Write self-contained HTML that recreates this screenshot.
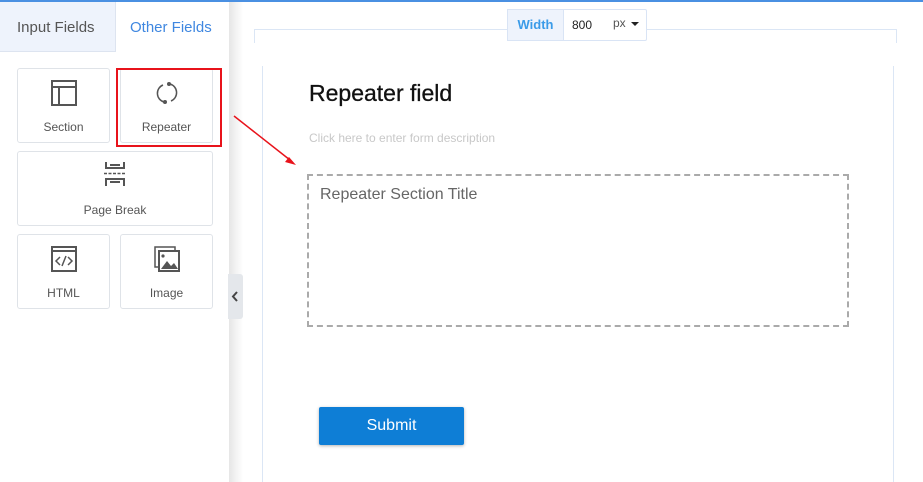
<!DOCTYPE html>
<html><head><meta charset="utf-8"><style>
*{box-sizing:border-box;margin:0;padding:0}
body{width:923px;height:482px;position:relative;overflow:hidden;background:#fff;font-family:"Liberation Sans",sans-serif}
.a{position:absolute}
.card{position:absolute;border:1px solid #dfe3e8;border-radius:3px;background:#fff;text-align:center;font-size:12px;color:#555}
.card span{position:absolute;left:0;right:0;bottom:8px}
.card svg{position:absolute;left:50%;transform:translateX(-50%);top:10px}
</style></head><body>
<div class="a" style="left:0;top:0;width:923px;height:2px;background:#4a90e2"></div>
<div class="a" style="left:229px;top:2px;width:14px;height:480px;background:linear-gradient(to right,#e6e6e6,#fff)"></div>
<div class="a" style="left:0;top:2px;width:229px;height:480px;background:#fff"></div>
<div class="a" style="left:0;top:2px;width:116px;height:50px;background:#eef3fc;border-right:1px solid #dde4f0;border-bottom:1px solid #dde4f0"></div>
<div class="a" style="left:17px;top:19px;font-size:15px;color:#555">Input Fields</div>
<div class="a" style="left:130px;top:19px;font-size:15px;color:#3f87e0">Other Fields</div>

<div class="card" style="left:17px;top:68px;width:93px;height:75px">
<svg width="28" height="28" viewBox="0 0 28 28"><rect x="2" y="2" width="24" height="24" fill="none" stroke="#555" stroke-width="2"/><line x1="2" y1="8" x2="26" y2="8" stroke="#555" stroke-width="2"/><line x1="9" y1="8" x2="9" y2="26" stroke="#555" stroke-width="2"/></svg><span>Section</span></div>
<div class="card" style="left:120px;top:68px;width:93px;height:75px">
<svg width="28" height="28" viewBox="0 0 28 28"><path d="M17 5 A9 9 0 0 1 18 22" fill="none" stroke="#555" stroke-width="1.5"/><path d="M11 23 A9 9 0 0 1 10 6" fill="none" stroke="#555" stroke-width="1.5"/><circle cx="16" cy="5" r="2" fill="#555"/><circle cx="12" cy="23" r="2" fill="#555"/></svg><span>Repeater</span></div>
<div class="a" style="left:116px;top:68px;width:106px;height:79px;border:2px solid #e8131b"></div>
<div class="card" style="left:17px;top:151px;width:196px;height:75px">
<svg width="28" height="28" viewBox="0 0 28 28" style="top:8px"><g stroke="#555" stroke-width="2" fill="none"><path d="M5 2v6h18V2"/><line x1="9" y1="5" x2="19" y2="5"/><path d="M5 26v-7h18v7"/><line x1="9" y1="22" x2="19" y2="22"/></g><line x1="3" y1="13.5" x2="25" y2="13.5" stroke="#555" stroke-width="1.5" stroke-dasharray="3 1.5"/></svg><span>Page Break</span></div>
<div class="card" style="left:17px;top:234px;width:93px;height:75px">
<svg width="28" height="28" viewBox="0 0 28 28"><rect x="2" y="2" width="24" height="24" fill="none" stroke="#555" stroke-width="2"/><line x1="2" y1="6" x2="26" y2="6" stroke="#555" stroke-width="2"/><path d="M10 12l-4 4 4 4M18 12l4 4-4 4M16 11l-4 10" fill="none" stroke="#555" stroke-width="1.5"/></svg><span>HTML</span></div>
<div class="card" style="left:120px;top:234px;width:93px;height:75px">
<svg width="28" height="28" viewBox="0 0 28 28"><rect x="2" y="2" width="20" height="20" fill="none" stroke="#555" stroke-width="1.5"/><rect x="6" y="6" width="20" height="20" fill="#fff" stroke="#555" stroke-width="2"/><path d="M8 24l6-8 4 5 3-3 4 6z" fill="#555"/><circle cx="10" cy="11" r="1.6" fill="#555"/></svg><span>Image</span></div>

<div class="a" style="left:228px;top:274px;width:15px;height:45px;background:#e4e7eb;border-radius:0 3px 3px 0"></div>
<svg class="a" style="left:228px;top:274px" width="15" height="45"><path d="M9 18l-4 4.5 4 4.5" fill="none" stroke="#444" stroke-width="2"/></svg>

<div class="a" style="left:254px;top:29px;width:643px;height:14px;border:1px solid #dbe6f5;border-bottom:none"></div>
<div class="a" style="left:507px;top:9px;width:140px;height:32px;border:1px solid #d9e4f5;border-radius:2px;background:#fff"></div>
<div class="a" style="left:507px;top:9px;width:57px;height:32px;background:#eef3fc;border:1px solid #d9e4f5;color:#3a9be8;font-size:13px;font-weight:bold;text-align:center;line-height:30px">Width</div>
<div class="a" style="left:572px;top:18px;font-size:12px;color:#222">800</div>
<div class="a" style="left:613px;top:16px;font-size:12px;color:#555">px</div>
<div class="a" style="left:631px;top:22px;border-left:4px solid transparent;border-right:4px solid transparent;border-top:4px solid #222"></div>

<div class="a" style="left:262px;top:66px;width:1px;height:416px;background:#dbe6f5"></div>
<div class="a" style="left:893px;top:66px;width:1px;height:416px;background:#dbe6f5"></div>
<div class="a" style="left:309px;top:80px;font-size:23px;color:#111;-webkit-text-stroke:0.3px #111">Repeater field</div>
<div class="a" style="left:309px;top:131px;font-size:12px;color:#c8c8c8">Click here to enter form description</div>
<div class="a" style="left:307px;top:174px;width:542px;height:153px;border:2px dashed #aaa"></div>
<div class="a" style="left:320px;top:186px;font-size:16px;color:#666">Repeater Section Title</div>
<div class="a" style="left:319px;top:407px;width:145px;height:38px;background:#0e7ed6;border-radius:2px;box-shadow:0 1px 3px rgba(0,0,0,.3);color:#fff;font-size:16px;text-align:center;line-height:38px">Submit</div>

<svg class="a" style="left:0;top:0" width="923" height="482"><line x1="234" y1="116" x2="290" y2="160" stroke="#e8131b" stroke-width="1.5"/><path d="M296 165l-11-3 4-5z" fill="#e8131b"/></svg>
</body></html>
